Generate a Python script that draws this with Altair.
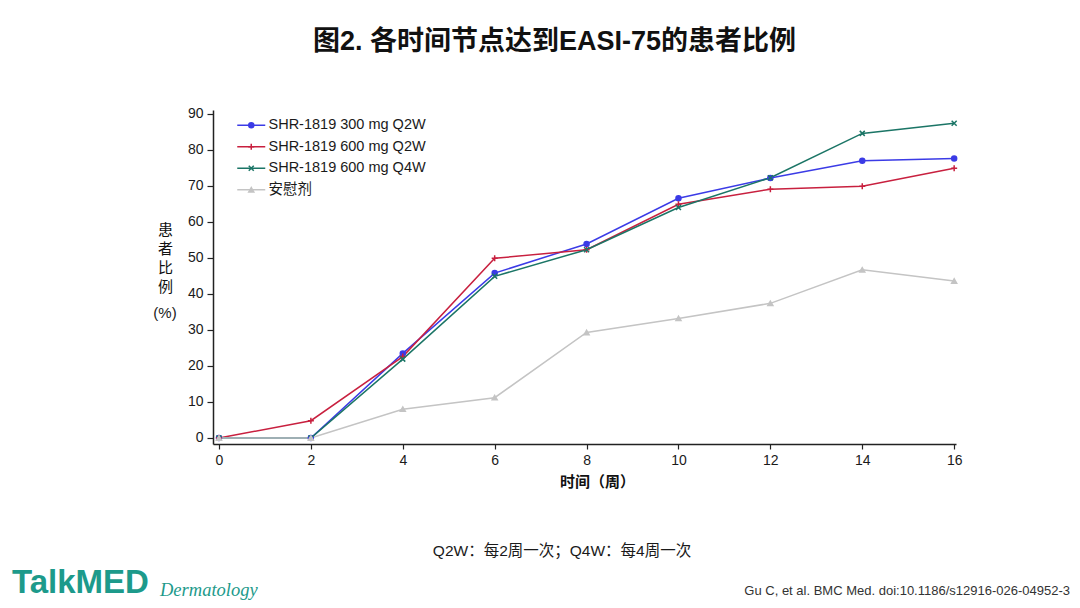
import altair as alt
import pandas as pd

FONT = "Liberation Sans, Noto Sans CJK SC, sans-serif"

weeks = [0, 2, 4, 6, 8, 10, 12, 14, 16]
series_names = ["SHR-1819 300 mg Q2W", "SHR-1819 600 mg Q2W", "SHR-1819 600 mg Q4W", "安慰剂"]
series_codes = ["a", "b", "c", "d"]
colors = ["#3b3be6", "#c8203f", "#1b7566", "#c4c4c4"]
shapes = ["circle", "M-1.2,0H1.2M0,-1.2V1.2", "M-1,-1L1,1M-1,1L1,-1", "triangle-up"]

v_300_q2w = [0, 0, 23.5, 45.8, 53.9, 66.6, 72.2, 77.0, 77.6]
v_600_q2w = [0, 4.8, 22.6, 49.9, 52.3, 64.9, 69.1, 69.9, 74.9]
v_600_q4w = [0, 0, 21.9, 44.9, 52.3, 64.0, 72.3, 84.6, 87.4]
v_placebo = [0, 0, 8.0, 11.2, 29.3, 33.2, 37.4, 46.7, 43.6]

x_ticks = [0, 2, 4, 6, 8, 10, 12, 14, 16]
y_ticks = [0, 10, 20, 30, 40, 50, 60, 70, 80, 90]

title_text = "图2. 各时间节点达到EASI-75的患者比例"
x_title = "时间（周）"
y_title = ["患", "者", "比", "例"]
y_unit = "(%)"
footnote = "Q2W：每2周一次；Q4W：每4周一次"
citation = "Gu C, et al. BMC Med. doi:10.1186/s12916-026-04952-3"
brand = "TalkMED"
brand_sub = "Dermatology"

rows = []
for name, code, vals in zip(series_names, series_codes, [v_300_q2w, v_600_q2w, v_600_q4w, v_placebo]):
    for w, v in zip(weeks, vals):
        rows.append({"series": name, "code": code, "week": w, "value": v})
df = pd.DataFrame(rows)

W, H = 743, 334

x_enc = alt.X("week:Q", scale=alt.Scale(domain=[-0.13, 16.04], nice=False, zero=False),
              axis=alt.Axis(values=x_ticks, title=x_title, titleFontSize=15, titleFontWeight="bold",
                            titleFont=FONT, titleColor="#111", titlePadding=7, titleX=384,
                            labelFontSize=14, labelFont=FONT, labelColor="#1a1a1a", labelPadding=4,
                            tickSize=5, tickColor="#222", domainColor="#222", domainWidth=1.5,
                            tickWidth=1.2, grid=False, labelFlush=False, labelOverlap=False))
y_enc = alt.Y("value:Q", scale=alt.Scale(domain=[-1.67, 91.1], nice=False, zero=False),
              axis=alt.Axis(values=y_ticks, title=y_title, titleAngle=0, titleX=-48, titleY=112,
                            titleAlign="center", titleBaseline="top", titleLineHeight=19,
                            titleFontSize=15, titleFontWeight="normal", titleFont=FONT, titleColor="#111",
                            labelFontSize=14, labelFont=FONT, labelColor="#1a1a1a", labelPadding=4,
                            tickSize=6, tickColor="#222", domainColor="#222", domainWidth=1.5,
                            tickWidth=1.2, grid=False, labelOverlap=False))

LEG_X, LEG_Y = 31, 8

base = alt.Chart(df).encode(x=x_enc, y=y_enc)

lines = base.mark_line(strokeWidth=1.5).encode(
    stroke=alt.Stroke("series:N", scale=alt.Scale(domain=series_names, range=colors),
                      legend=alt.Legend(orient="none", legendX=LEG_X, legendY=LEG_Y, title=None,
                                        symbolType="M-7,0H7", symbolSize=16, symbolStrokeWidth=1.5,
                                        labelFontSize=14.5, labelFont=FONT, labelColor="#1a1a1a",
                                        labelOffset=10, rowPadding=6.5, padding=0)),
)

mk_leg = alt.Legend(orient="none", legendX=LEG_X, legendY=LEG_Y, title=None,
                    symbolSize=25, symbolStrokeWidth=1.5, labelFontSize=14.5, labelFont=FONT,
                    labelExpr="''", labelOffset=10, rowPadding=6.5, padding=0)
points = base.mark_point(filled=False, size=25, strokeWidth=1.5, opacity=1).encode(
    color=alt.Color("code:N", scale=alt.Scale(domain=series_codes, range=colors), legend=mk_leg),
    shape=alt.Shape("code:N", scale=alt.Scale(domain=series_codes, range=shapes), legend=mk_leg),
    fill=alt.Fill("code:N", scale=alt.Scale(domain=series_codes, range=colors), legend=None),
)

one = alt.Data(values=[{}])
def label(text, x, y, size, align="left", weight="normal", color="#1a1a1a", font=FONT, style="normal"):
    return alt.Chart(one).mark_text(text=text, align=align, baseline="middle", fontSize=size,
                                    fontWeight=weight, color=color, font=font, fontStyle=style).encode(
        x=alt.value(x), y=alt.value(y))

unit_t = label(y_unit, -48, 203, 15, align="center")
foot_t = label(footnote, 349, 441, 15.5, align="center")
cite_t = label(citation, 857, 481, 13, align="right", color="#333")
brand_t = label(brand, -201, 473, 33, weight="bold", color="#1d9a8b")
sub_t = label(brand_sub, -53, 480, 18.5, color="#1d9a8b", font="Liberation Serif", style="italic")

chart = alt.layer(lines, points, unit_t, foot_t, cite_t, brand_t, sub_t).properties(
    width=W, height=H,
    title=alt.TitleParams(title_text, fontSize=27, fontWeight="bold", font=FONT, color="#111",
                          anchor="middle", dx=-30, offset=51),
    autosize=alt.AutoSizeParams(type="none"),
    padding={"left": 205, "top": 102, "right": 116, "bottom": 156},
    background="white",
).configure_view(strokeWidth=0, stroke="transparent")

chart.save("out.html", embed_options={"renderer": "svg", "actions": False})
